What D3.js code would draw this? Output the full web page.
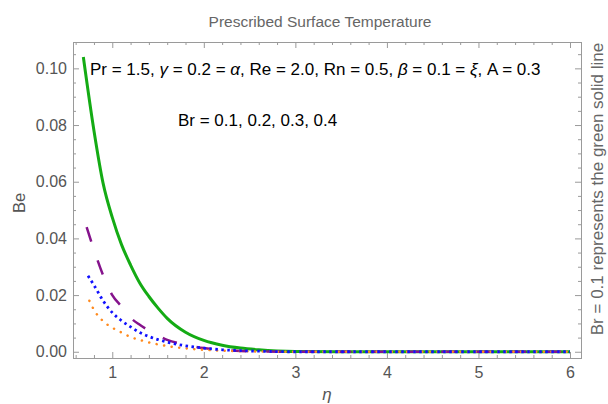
<!DOCTYPE html>
<html>
<head>
<meta charset="utf-8">
<script src="https://cdn.jsdelivr.net/npm/d3@7"></script>
<style>
  body { margin: 0; background: #fff; }
  text { font-family: "Liberation Sans", Arial, sans-serif; }
</style>
</head>
<body>
<svg id="chart"></svg>
<script>
// eta values for each curve
var etaGreen  = [0.684, 0.8, 0.9, 1.0, 1.1, 1.2, 1.3, 1.4, 1.5, 1.6, 1.8, 2.0, 2.2, 2.4, 2.6, 2.8, 3.0, 3.5, 4, 5, 6];
var beGreen   = [0.104, 0.078, 0.0594, 0.0474, 0.0379, 0.0306, 0.0243, 0.0195, 0.0154, 0.0118, 0.0069, 0.0040, 0.0023, 0.0013, 0.0007, 0.0003, 0.0001, 0, 0, 0, 0];

var etaPurple = [0.72, 0.8, 0.9, 1.0, 1.1, 1.2, 1.3, 1.4, 1.5, 1.6, 1.8, 2.0, 2.2, 2.4, 2.6, 3.0, 4, 5, 6];
var bePurple  = [0.044, 0.036, 0.027, 0.020, 0.016, 0.012, 0.0095, 0.0075, 0.0058, 0.0042, 0.0025, 0.0013, 0.0007, 0.0003, 0.0001, 0, 0, 0, 0];

var etaBlue   = [0.735, 0.8, 0.9, 1.0, 1.1, 1.2, 1.3, 1.4, 1.5, 1.6, 1.8, 2.0, 2.2, 2.4, 2.6, 3.0, 4, 5, 6];
var beBlue    = [0.0268, 0.0235, 0.018, 0.0138, 0.011, 0.0088, 0.0068, 0.0054, 0.0043, 0.0034, 0.0021, 0.0013, 0.0007, 0.0004, 0.0002, 0, 0, 0, 0];

var etaOrange = [0.75, 0.8, 0.9, 1.0, 1.1, 1.2, 1.3, 1.4, 1.5, 1.6, 1.8, 2.0, 2.2, 2.4, 2.6, 3.0, 4, 5, 6];
var beOrange  = [0.018, 0.0148, 0.0108, 0.0085, 0.0068, 0.0052, 0.0042, 0.0033, 0.0026, 0.002, 0.0012, 0.0007, 0.0004, 0.0002, 0.0001, 0, 0, 0, 0];

var xTicks = [1, 2, 3, 4, 5, 6];
var yTicks = [0, 0.02, 0.04, 0.06, 0.08, 0.10];

function zip(xs, ys) {
    return xs.map(function (x, i) { return { eta: x, be: ys[i] }; });
}

var svgWidth = 608, svgHeight = 404;
var margin = { top: 42, right: 27, bottom: 46, left: 73 };
var width = svgWidth - margin.left - margin.right;
var height = svgHeight - margin.top - margin.bottom;

var svg = d3.select("#chart")
    .attr("width", svgWidth)
    .attr("height", svgHeight);

var g = svg.append("g")
    .attr("transform", "translate(" + margin.left + "," + margin.top + ")");

var x = d3.scaleLinear().domain([0.571, 6.12]).range([0, width]);
var y = d3.scaleLinear().domain([-0.0022, 0.1093]).range([height, 0]);

var frameColor = "#9a9a9a", labelColor = "#555";

// minor tick values
var xMinor = d3.range(0.6, 6.11, 0.2).filter(function (v) { return Math.abs(v - Math.round(v)) > 0.01; });
var yMinor = d3.range(0, 0.109, 0.005).filter(function (v) { return Math.abs(v / 0.02 - Math.round(v / 0.02)) > 0.01; });

// bottom axis
g.append("g")
    .attr("transform", "translate(0," + height + ")")
    .call(d3.axisBottom(x).tickValues(xTicks).tickSize(-6).tickPadding(9).tickFormat(d3.format("d")));
g.append("g")
    .attr("transform", "translate(0," + height + ")")
    .call(d3.axisBottom(x).tickValues(xMinor).tickSize(-3).tickFormat(""));
// top axis
g.append("g").call(d3.axisTop(x).tickValues(xTicks).tickSize(-6).tickFormat(""));
g.append("g").call(d3.axisTop(x).tickValues(xMinor).tickSize(-3).tickFormat(""));
// left axis
g.append("g")
    .call(d3.axisLeft(y).tickValues(yTicks).tickSize(-6).tickPadding(6).tickFormat(d3.format(".2f")));
g.append("g").call(d3.axisLeft(y).tickValues(yMinor).tickSize(-3).tickFormat(""));
// right axis
g.append("g")
    .attr("transform", "translate(" + width + ",0)")
    .call(d3.axisRight(y).tickValues(yTicks).tickSize(-6).tickFormat(""));
g.append("g")
    .attr("transform", "translate(" + width + ",0)")
    .call(d3.axisRight(y).tickValues(yMinor).tickSize(-3).tickFormat(""));

g.selectAll(".domain").attr("stroke", frameColor);
g.selectAll(".tick line").attr("stroke", frameColor);
g.selectAll(".tick text").attr("fill", labelColor).style("font-size", "16px")
    .style("font-family", "'Liberation Sans', Arial, sans-serif");

// curves
var line = d3.line()
    .x(function (d) { return x(d.eta); })
    .y(function (d) { return y(d.be); })
    .curve(d3.curveMonotoneX);

svg.append("clipPath").attr("id", "clip")
    .append("rect").attr("x", 0).attr("y", -4).attr("width", width).attr("height", height + 8);

var curves = g.append("g").attr("clip-path", "url(#clip)");

curves.append("path")
    .datum(zip(etaGreen, beGreen))
    .attr("fill", "none")
    .attr("stroke", "#14ab14")
    .attr("stroke-width", 3)
    .attr("d", line);

curves.append("path")
    .datum(zip(etaPurple, bePurple))
    .attr("fill", "none")
    .attr("stroke", "#85138c")
    .attr("stroke-width", 2.5)
    .attr("stroke-dasharray", "15,20")
    .attr("d", line);

curves.append("path")
    .datum(zip(etaOrange, beOrange))
    .attr("fill", "none")
    .attr("stroke", "#ff8a1e")
    .attr("stroke-width", 2.5)
    .attr("stroke-linecap", "round")
    .attr("stroke-dasharray", "0.1,7.5")
    .attr("d", line);

curves.append("path")
    .datum(zip(etaBlue, beBlue))
    .attr("fill", "none")
    .attr("stroke", "#1010ff")
    .attr("stroke-width", 2.8)
    .attr("stroke-dasharray", "2.5,3.5")
    .attr("d", line);

// title and labels
svg.append("text")
    .attr("x", 320).attr("y", 27)
    .attr("text-anchor", "middle")
    .attr("fill", "#666")
    .style("font-size", "15.5px")
    .text("Prescribed Surface Temperature");

svg.append("text")
    .attr("transform", "translate(25,203) rotate(-90)")
    .attr("text-anchor", "middle")
    .attr("fill", labelColor)
    .style("font-size", "16.5px")
    .text("Be");

svg.append("text")
    .attr("x", 327).attr("y", 400)
    .attr("text-anchor", "middle")
    .attr("fill", labelColor)
    .style("font-size", "17px")
    .style("font-style", "italic")
    .text("η");

svg.append("text")
    .attr("transform", "translate(603,189) rotate(-90)")
    .attr("text-anchor", "middle")
    .attr("fill", "#666")
    .style("font-size", "17px")
    .text("Br = 0.1 represents the green solid line");

// annotations
var ann = svg.append("text")
    .attr("x", 90).attr("y", 75)
    .attr("fill", "#000")
    .style("font-size", "17px");
ann.append("tspan").text("Pr = 1.5, ");
ann.append("tspan").style("font-style", "italic").text("γ");
ann.append("tspan").text(" = 0.2 = ");
ann.append("tspan").style("font-style", "italic").text("α");
ann.append("tspan").text(", Re = 2.0, Rn = 0.5, ");
ann.append("tspan").style("font-style", "italic").text("β");
ann.append("tspan").text(" = 0.1 = ");
ann.append("tspan").style("font-style", "italic").text("ξ");
ann.append("tspan").text(", A = 0.3");

svg.append("text")
    .attr("x", 178).attr("y", 126)
    .attr("fill", "#000")
    .style("font-size", "17px")
    .text("Br = 0.1, 0.2, 0.3, 0.4");
</script>
</body>
</html>
